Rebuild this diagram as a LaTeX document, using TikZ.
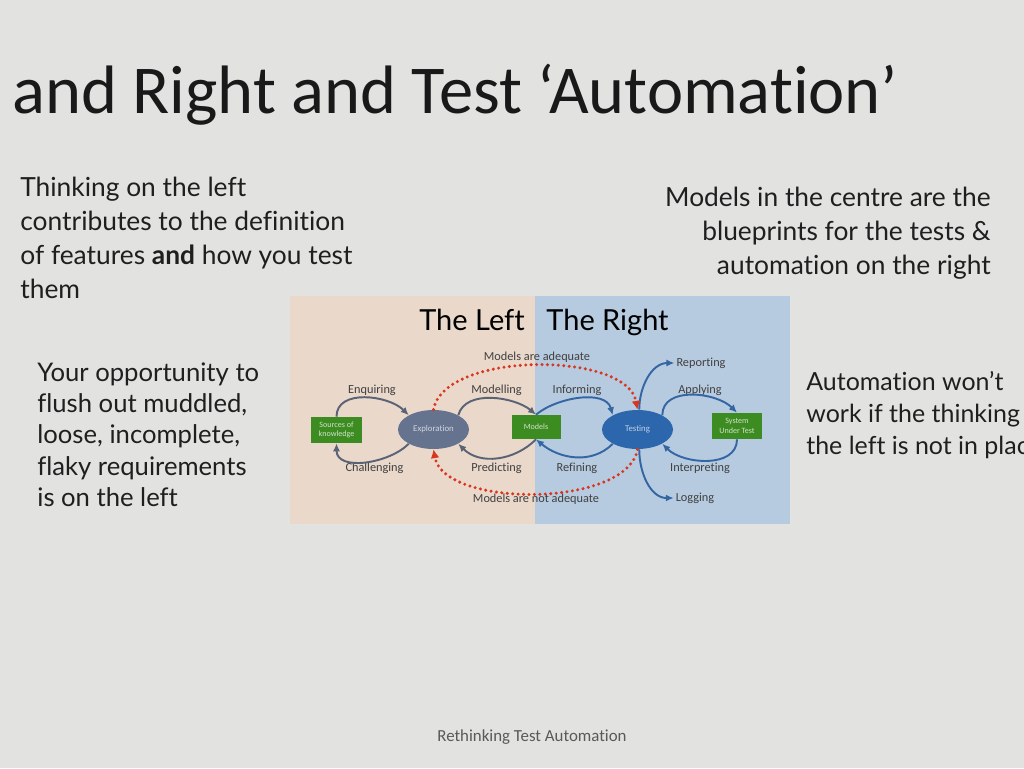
\documentclass[tikz,border=0pt]{standalone}
\usepackage{fontspec}
\setmainfont{Lato}[Ligatures=NoCommon]
\newfontfamily\calib{Carlito}[Ligatures=NoCommon]
\usetikzlibrary{shapes,arrows.meta,positioning}
\definecolor{slide}{HTML}{E2E2E0}
\definecolor{leftbg}{HTML}{EAD8CA}
\definecolor{rightbg}{HTML}{B7CBE0}
\definecolor{boxgreen}{HTML}{3D8C22}
\definecolor{explgrey}{HTML}{66738F}
\definecolor{testblue}{HTML}{2C66AC}
\definecolor{loopgrey}{HTML}{5A6376}
\definecolor{loopblue}{HTML}{3466A4}
\definecolor{dotred}{HTML}{D8361E}
\definecolor{labelgrey}{HTML}{404040}
\tikzstyle{slidetext} = [inner sep=0,text=black!88,font=\fontsize{15}{19.3}\selectfont]
\tikzstyle{greenbox} = [rectangle,fill=boxgreen,inner sep=0,align=center,text=white!75!boxgreen,font=\calib\fontsize{4.6}{5.4}\selectfont]
\tikzstyle{hub} = [ellipse,minimum width=1.42cm,minimum height=0.78cm,inner sep=0,font=\calib\fontsize{5}{6}\selectfont]
\tikzstyle{verb} = [inner sep=1pt,text=labelgrey,font=\calib\fontsize{7}{8}\selectfont]
\tikzstyle{flow} = [-{Latex[length=4.5pt,width=4pt]},line width=1.1pt]
\tikzstyle{verdict} = [-{Latex[length=5pt,width=5pt]},dotred,line width=1.9pt,dash pattern=on 0pt off 3.1pt,line cap=round]
\tikzstyle{side} = [inner sep=0,text=black,font=\fontsize{16.5}{18}\selectfont]

\begin{document}
\begin{tikzpicture}[x=0.02cm,y=-0.02cm]
  \fill[slide] (0,0) rectangle (1024,768);
  \useasboundingbox (0,0) rectangle (1024,768);
  \clip (0,0) rectangle (1024,768);
  % slide title and texts
  \node[anchor=base west,inner sep=0,text=black!90,font=\calib\fontsize{39}{41}\selectfont] (title) at (12,113) {and Right and Test ‘Automation’};
  \node[slidetext,anchor=north west,align=left] (thinking) at (20,177) {Thinking on the left\\contributes to the definition\\of features \textbf{and} how you test\\them};
  \node[slidetext,anchor=north west,align=left,font=\fontsize{14.6}{17.9}\selectfont] (chance) at (37,362) {Your opportunity to\\flush out muddled,\\loose, incomplete,\\flaky requirements\\is on the left};
  \node[slidetext,anchor=north east,align=right] (centre) at (991,187) {Models in the centre are the\\blueprints for the tests \&\\automation on the right};
  \node[slidetext,anchor=north west,align=left,font=\fontsize{14.2}{18.2}\selectfont] (wont) at (806,371) {Automation won’t\\work if the thinking on\\the left is not in place};
  \node[inner sep=0,text=black!65,font=\calib\fontsize{9.6}{11}\selectfont] (foot) at (532,737) {Rethinking Test Automation};
  % the picture
  \fill[leftbg] (290,296) rectangle (535,524);
  \fill[rightbg] (535,296) rectangle (790,524);
  \node[side,anchor=base] (left) at (472,330) {The Left};
  \node[side,anchor=base] (right) at (607.5,330) {The Right};
  \node[greenbox,minimum width=1.02cm,minimum height=0.52cm] (src) at (336.5,430) {Sources of\\knowledge};
  \node[hub,fill=explgrey,text=explgrey!30!white] (expl) at (433.5,429.5) {Exploration};
  \node[greenbox,minimum width=0.98cm,minimum height=0.48cm] (mod) at (536,427) {Models};
  \node[hub,fill=testblue,text=testblue!30!white] (test) at (637.5,429.5) {Testing};
  \node[greenbox,minimum width=1cm,minimum height=0.52cm] (sut) at (737,426) {System\\Under Test};
  \node[verb] (enq) at (372,390) {Enquiring};
  \node[verb] (chal) at (374.5,468) {Challenging};
  \node[verb] (modl) at (496.5,390) {Modelling};
  \node[verb] (pred) at (496.5,468) {Predicting};
  \node[verb] (inf) at (577,390) {Informing};
  \node[verb] (ref) at (577,468) {Refining};
  \node[verb] (app) at (700,390) {Applying};
  \node[verb] (intp) at (700,468) {Interpreting};
  \node[verb] (rep) at (701,363) {Reporting};
  \node[verb] (log) at (695,498) {Logging};
  \node[verb] (good) at (537,357) {Models are adequate};
  \node[verb] (bad) at (536,499) {Models are not adequate};
  \draw[flow,loopgrey] (src.north) to[out=90,in=135] (expl.150);
  \draw[flow,loopgrey] (expl.210) to[out=-135,in=-90] (src.south);
  \draw[flow,loopgrey] (expl.30) to[out=75,in=140,looseness=0.9] (mod.north);
  \draw[flow,loopgrey] (mod.south) to[out=-135,in=-45] (expl.330);
  \draw[flow,loopblue] (mod.north) to[out=40,in=105,looseness=0.9] (test.150);
  \draw[flow,loopblue] (test.210) to[out=-135,in=-40] (mod.south);
  \draw[flow,loopblue] (test.30) to[out=90,in=135] (sut.north);
  \draw[flow,loopblue] (sut.south) to[out=-90,in=-45] (test.330);
  \draw[flow,loopblue] (test.85) to[out=90,in=180] (rep.west);
  \draw[flow,loopblue] (test.-85) to[out=-90,in=180] (log.west);
  \draw[verdict] (expl.north) to[out=80,in=100,looseness=0.75] (test.north);
  \draw[verdict] (test.south) to[out=-100,in=-80,looseness=0.75] (expl.south);
\end{tikzpicture}
\end{document}
